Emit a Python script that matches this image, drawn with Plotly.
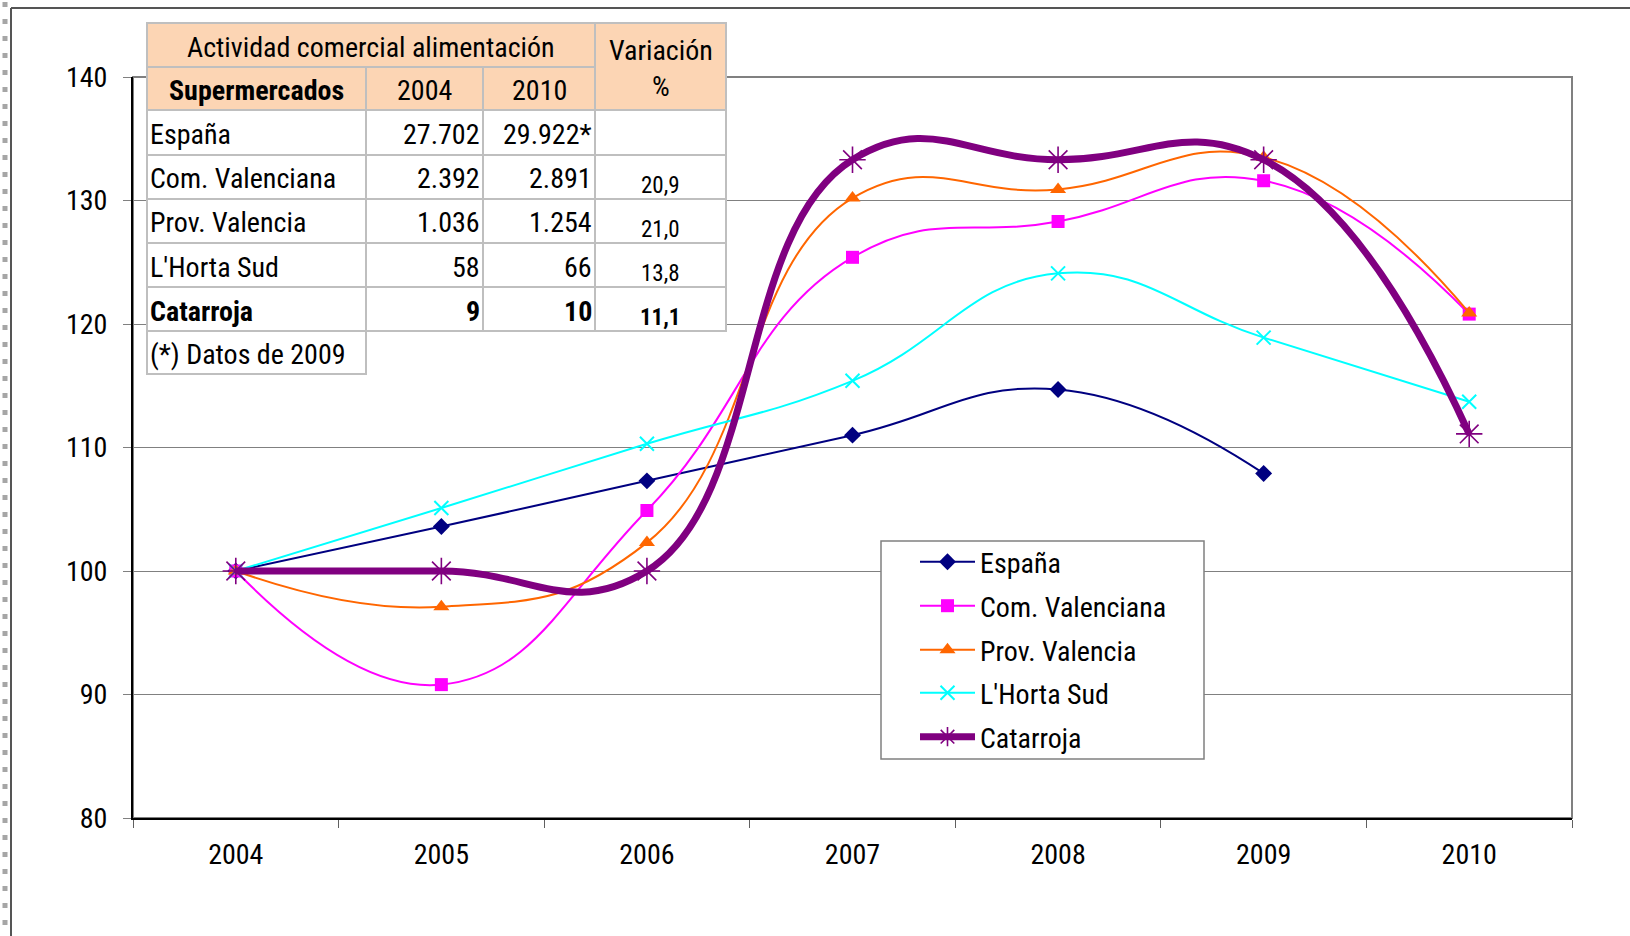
import plotly.graph_objects as go

# ---------------- data ----------------
years = ["2004", "2005", "2006", "2007", "2008", "2009", "2010"]
espana = [100, 103.6, 107.3, 111.0, 114.7, 107.9, None]
com_valenciana = [100, 90.8, 104.9, 125.4, 128.3, 131.6, 120.8]
prov_valencia = [100, 97.1, 102.3, 130.2, 130.9, 133.5, 120.9]
horta_sud = [100, 105.1, 110.3, 115.4, 124.1, 118.9, 113.7]
catarroja = [100, 100, 100, 133.3, 133.3, 133.3, 111.1]

y_ticks = [80, 90, 100, 110, 120, 130, 140]

# table content
table_title = "Actividad comercial alimentación"
table_var_header = ["Variación", "%"]
table_sub_header = ["Supermercados", "2004", "2010"]
table_names = ["España", "Com. Valenciana", "Prov. Valencia", "L'Horta Sud", "Catarroja"]
table_2004 = ["27.702", "2.392", "1.036", "58", "9"]
table_2010 = ["29.922*", "2.891", "1.254", "66", "10"]
table_var = ["", "20,9", "21,0", "13,8", "11,1"]
table_note = "(*) Datos de 2009"

# ---------------- layout geometry ----------------
W, H = 1630, 936
PL, PR, PT, PB = 133, 1572, 77, 818
FONT = "Roboto Condensed, Liberation Sans Narrow, Arial Narrow, sans-serif"
FS = 28


def fx(px):
    return (px - PL) / (PR - PL)


def fy(py):
    return (PB - py) / (PB - PT)


fig = go.Figure()

series = [
    ("España", espana, "#000080", "diamond", 13, 2, 0),
    ("Com. Valenciana", com_valenciana, "#FF00FF", "square", 13, 2, 0),
    ("Prov. Valencia", prov_valencia, "#FF6600", "triangle-up", 14, 2, 0),
    ("L'Horta Sud", horta_sud, "#00FFFF", "x-thin-open", 14, 2, 2),
    ("Catarroja", catarroja, "#800080", "asterisk-open", 22, 7, 1.6),
]
legend_ids = ["legend", "legend2", "legend3", "legend4", "legend5"]
legend_centers = [562, 606, 650, 693, 737]
for i, (name, vals, color, sym, msize, lw, mlw) in enumerate(series):
    fig.add_trace(go.Scatter(
        x=years, y=vals, name=name, mode="lines+markers",
        line=dict(color=color, width=lw, shape="spline", smoothing=1.3),
        marker=dict(symbol=sym, size=msize, color=color,
                    line=dict(color=color, width=mlw)),
        legend=legend_ids[i],
    ))

shapes = []
# outer chart border (top and left), dotted column at far left
shapes.append(dict(type="line", xref="paper", yref="paper",
                   x0=fx(11), x1=fx(W + 5), y0=fy(8), y1=fy(8),
                   line=dict(color="#555555", width=2)))
shapes.append(dict(type="line", xref="paper", yref="paper",
                   x0=fx(11), x1=fx(11), y0=fy(8), y1=fy(H + 5),
                   line=dict(color="#555555", width=2)))
shapes.append(dict(type="line", xref="paper", yref="paper",
                   x0=fx(5), x1=fx(5), y0=fy(2), y1=fy(H + 5),
                   line=dict(color="#A6A6A6", width=5, dash="5px,12px")))
# plot area border (gray top/right)
shapes.append(dict(type="rect", xref="paper", yref="paper", x0=0, x1=1, y0=0, y1=1,
                   line=dict(color="#808080", width=2), layer="between"))

# legend box
shapes.append(dict(type="rect", xref="paper", yref="paper",
                   x0=fx(881), x1=fx(1204), y0=fy(541), y1=fy(759),
                   fillcolor="white", line=dict(color="#808080", width=1.5), layer="above"))

# table
cols = [147, 366, 483, 595, 726]
rows = [23, 67, 110, 155, 199, 243, 287, 331, 374]
PEACH = "#FCD5B4"
GRID = "#BFBFBF"


def cell(x0, x1, y0, y1, fill):
    shapes.append(dict(type="rect", xref="paper", yref="paper",
                       x0=fx(x0), x1=fx(x1), y0=fy(y0), y1=fy(y1),
                       fillcolor=fill, line=dict(color=GRID, width=2), layer="above"))


cell(cols[0], cols[3], rows[0], rows[1], PEACH)
cell(cols[3], cols[4], rows[0], rows[2], PEACH)
for c in range(3):
    cell(cols[c], cols[c + 1], rows[1], rows[2], PEACH)
for r in range(2, 7):
    for c in range(4):
        cell(cols[c], cols[c + 1], rows[r], rows[r + 1], "white")
cell(cols[0], cols[1], rows[7], rows[8], "white")

annotations = []


def txt(text, x, y, xanchor="center", yanchor="middle", size=FS, bold=False):
    if bold and text:
        text = "<b>" + text + "</b>"
    annotations.append(dict(text=text, xref="paper", yref="paper", x=fx(x), y=fy(y),
                            xanchor=xanchor, yanchor=yanchor, showarrow=False,
                            font=dict(family=FONT, size=size, color="black")))


txt(table_title, (cols[0] + cols[3]) / 2, 47)
txt(table_var_header[0], (cols[3] + cols[4]) / 2, 51)
txt(table_var_header[1], (cols[3] + cols[4]) / 2, 86)
txt(table_sub_header[0], (cols[0] + cols[1]) / 2, 90, bold=True)
txt(table_sub_header[1], (cols[1] + cols[2]) / 2, 90)
txt(table_sub_header[2], (cols[2] + cols[3]) / 2, 90)
for i in range(5):
    r0, r1 = rows[2 + i], rows[3 + i]
    yc = (r0 + r1) / 2 + 2
    bold = table_names[i] == "Catarroja"
    txt(table_names[i], cols[0] + 1, yc, xanchor="left", bold=bold)
    txt(table_2004[i], cols[2] - 1, yc, xanchor="right", bold=bold)
    txt(table_2010[i], cols[3] - 1, yc, xanchor="right", bold=bold)
    txt(table_var[i], (cols[3] + cols[4]) / 2, r1 + 2, yanchor="bottom", size=23, bold=bold)
txt(table_note, cols[0] + 1, (rows[7] + rows[8]) / 2 + 2, xanchor="left")

legend_layout = {}
for i, lid in enumerate(legend_ids):
    legend_layout[lid] = dict(x=fx(915), y=fy(legend_centers[i]), xanchor="left",
                              yanchor="middle", bgcolor="rgba(0,0,0,0)", borderwidth=0,
                              font=dict(family=FONT, size=FS, color="black"),
                              itemwidth=55)

fig.update_layout(
    width=W, height=H,
    margin=dict(l=PL, r=W - PR, t=PT, b=H - PB, pad=0),
    paper_bgcolor="white", plot_bgcolor="white",
    font=dict(family=FONT, size=FS, color="black"),
    showlegend=True,
    shapes=shapes,
    annotations=annotations,
    xaxis=dict(type="category", range=[-0.5, 6.5], showgrid=False,
               tickson="boundaries", ticks="outside", ticklen=8, tickcolor="#606060",
               tickwidth=1, showline=True, linecolor="black", linewidth=2,
               tickfont=dict(family=FONT, size=FS, color="black"), zeroline=False,
               ticklabelstandoff=10),
    yaxis=dict(range=[80, 140], tickvals=y_ticks, showgrid=True, gridcolor="#808080",
               gridwidth=1.2, ticks="outside", ticklen=8, tickcolor="#808080",
               showline=True, linecolor="black", linewidth=2, zeroline=False,
               tickfont=dict(family=FONT, size=FS, color="black"),
               ticklabelstandoff=10),
    **legend_layout,
)

fig.write_html("out.html", config={"displayModeBar": False},
               post_script="document.body.style.margin='0px';")
